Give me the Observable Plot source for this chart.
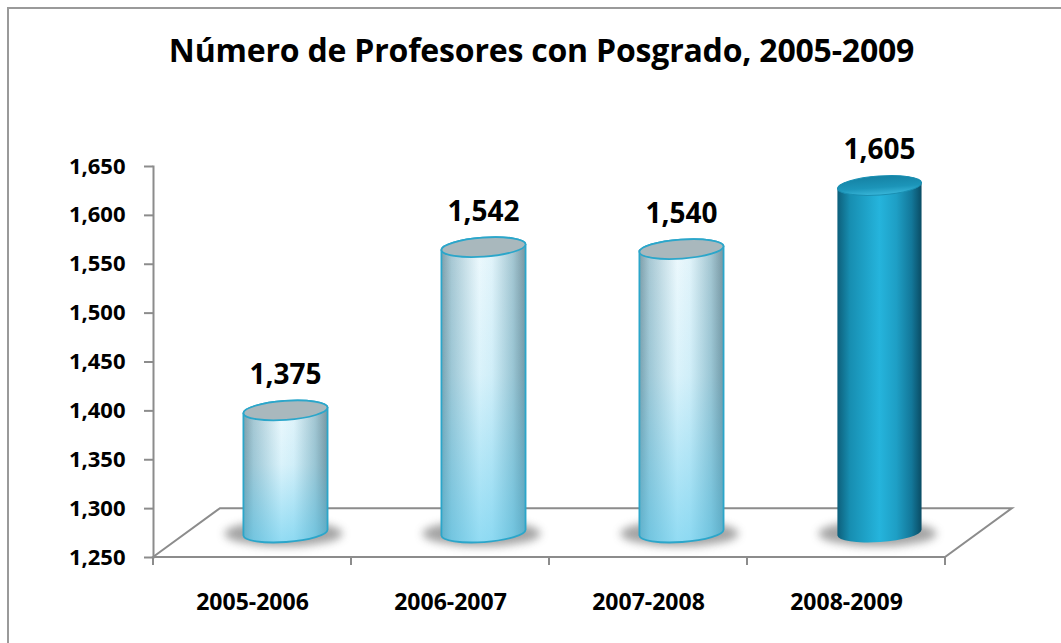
<!DOCTYPE html>
<html>
<head>
<meta charset="utf-8">
<script src="https://cdn.jsdelivr.net/npm/d3@7"></script>
<script src="https://cdn.jsdelivr.net/npm/@observablehq/plot@0.6"></script>
<style>
  html, body { margin: 0; padding: 0; background: #fff; }
  body { width: 1061px; height: 643px; overflow: hidden; position: relative; font-family: "Open Sans", "Liberation Sans", sans-serif; }
  #frame { position: absolute; left: 7px; top: 7px; width: 1100px; height: 700px; border: 2px solid #9a9a9a; box-sizing: border-box; pointer-events: none; }
  #title { height: 100px; line-height: 100px; text-align: center; font-weight: bold; font-size: 32px; color: #000; letter-spacing: -0.2px; padding-left: 22px; box-sizing: border-box; }
  #chart svg { display: block; }
</style>
</head>
<body>
<div id="frame"></div>
<div id="title">Número de Profesores con Posgrado, 2005-2009</div>
<div id="chart"></div>
<script>
// ---- data ----
const periods = ["2005-2006", "2006-2007", "2007-2008", "2008-2009"];
const profesores = [1375, 1542, 1540, 1605];
const yTicks = [1250, 1300, 1350, 1400, 1450, 1500, 1550, 1600, 1650];
const yDomain = [1250, 1650];
const highlighted = ["2008-2009"];

const data = periods.map((p, i) => ({periodo: p, valor: profesores[i]}));

const FONT = '"Open Sans", "Liberation Sans", sans-serif';
const GRID = "#8c8c8c";
const fmt = d3.format(",");

function bandInfo(x) {
  const r = x.range();
  const bw = x.bandwidth ? x.bandwidth() : (r[1] - r[0]) / periods.length;
  return {x0: r[0], x1: r[1], bw};
}

// 3D floor depth derived from the y scale (one step of 50 units)
function depth(y) {
  const dy = y(yDomain[0]) - y(yDomain[0] + 50);
  return {dy, dx: dy * 1.37};
}

// floor (3D base) + category boundary ticks
function floorMark(index, scales) {
  const {x, y} = scales;
  const {x0, x1, bw} = bandInfo(x);
  const {dx, dy} = depth(y);
  const yb = y(yDomain[0]);
  const g = d3.create("svg:g");
  g.append("path")
    .attr("d", `M${x0},${yb} L${x0 + dx},${yb - dy} L${x1 + dx},${yb - dy} L${x1},${yb} Z`)
    .attr("fill", "#fff").attr("stroke", GRID).attr("stroke-width", 2).attr("stroke-linejoin", "miter");
  for (let i = 0; i <= periods.length; i++) {
    const xx = x0 + i * bw;
    g.append("line").attr("x1", xx).attr("x2", xx).attr("y1", yb).attr("y2", yb + 8)
      .attr("stroke", GRID).attr("stroke-width", 2);
  }
  return g.node();
}

// cylinders
function cylinderMark(index, scales) {
  const {x, y} = scales;
  const {bw} = bandInfo(x);
  const {dx, dy} = depth(y);
  const g = d3.create("svg:g");
  const defs = g.append("defs");

  const light = defs.append("linearGradient").attr("id", "gLight").attr("x1", 0).attr("x2", 1).attr("y1", 0).attr("y2", 0);
  [[0, "#7f9ea9"], [0.12, "#a9c8d3"], [0.45, "#eef9fd"], [0.6, "#e3f4fa"], [0.85, "#a5c6d1"], [1, "#7895a0"]]
    .forEach(([o, c]) => light.append("stop").attr("offset", o).attr("stop-color", c));
  const lightV = defs.append("linearGradient").attr("id", "gLightV").attr("x1", 0).attr("x2", 0).attr("y1", 0).attr("y2", 1);
  [[0, "rgba(70,195,235,0)"], [0.45, "rgba(70,195,235,0.12)"], [1, "rgba(70,195,235,0.55)"]]
    .forEach(([o, c]) => lightV.append("stop").attr("offset", o).attr("stop-color", c));
  const dark = defs.append("linearGradient").attr("id", "gDark").attr("x1", 0).attr("x2", 1).attr("y1", 0).attr("y2", 0);
  [[0, "#0d5f7b"], [0.15, "#178eb1"], [0.5, "#25b4dc"], [0.7, "#1e9fc5"], [0.88, "#13789a"], [1, "#0a4c64"]]
    .forEach(([o, c]) => dark.append("stop").attr("offset", o).attr("stop-color", c));
  const darkTop = defs.append("linearGradient").attr("id", "gDarkTop").attr("x1", 0).attr("x2", 0).attr("y1", 0).attr("y2", 1);
  [[0, "#1582a4"], [0.6, "#1c95b9"], [1, "#3ab7da"]]
    .forEach(([o, c]) => darkTop.append("stop").attr("offset", o).attr("stop-color", c));
  const blur = defs.append("filter").attr("id", "shadowBlur").attr("x", "-50%").attr("y", "-100%").attr("width", "200%").attr("height", "300%");
  blur.append("feGaussianBlur").attr("stdDeviation", 4.5);

  const rot = -4;
  const a = rot * Math.PI / 180;
  for (const i of index) {
    const d = data[i];
    const isDark = highlighted.includes(d.periodo);
    const rx = bw * 0.213;
    const ry = rx * 0.225;
    const cx = x(d.periodo) + bw / 2 + dx / 2;
    const yTop = y(d.valor) - dy / 2;
    const yBot = y(yDomain[0]) - dy / 2;
    const ex = rx * Math.cos(a), ey = rx * Math.sin(a);
    const Lt = [cx - ex, yTop - ey], Rt = [cx + ex, yTop + ey];
    const Lb = [cx - ex, yBot - ey], Rb = [cx + ex, yBot + ey];

    // shadow
    g.append("ellipse").attr("cx", cx - 2).attr("cy", yBot + 1).attr("rx", rx * 1.4).attr("ry", ry * 1.35)
      .attr("fill", "#5a5a5a").attr("opacity", 0.55).attr("filter", "url(#shadowBlur)");

    const body = `M${Lt} L${Lb} A${rx},${ry} ${rot} 0 0 ${Rb} L${Rt} A${rx},${ry} ${rot} 0 0 ${Lt} Z`;
    g.append("path").attr("d", body).attr("fill", isDark ? "url(#gDark)" : "url(#gLight)");
    if (!isDark) {
      g.append("path").attr("d", body).attr("fill", "url(#gLightV)")
        .attr("stroke", "#2ba6ca").attr("stroke-width", 1.8);
    }
    g.append("ellipse").attr("cx", cx).attr("cy", yTop).attr("rx", rx).attr("ry", ry)
      .attr("transform", `rotate(${rot},${cx},${yTop})`)
      .attr("fill", isDark ? "url(#gDarkTop)" : "#a9b8bd")
      .attr("stroke", isDark ? "#1a8fb2" : "#2ba6ca").attr("stroke-width", isDark ? 1 : 1.8);
  }
  return g.node();
}

const plot = Plot.plot({
  width: 1061,
  height: 543,
  marginLeft: 153,
  marginRight: 116,
  marginTop: 66,
  marginBottom: 86,
  style: {fontFamily: FONT, fontWeight: "bold", color: "#000", background: "transparent", overflow: "visible"},
  x: {type: "band", domain: periods, padding: 0, axis: null, label: null},
  y: {domain: yDomain, axis: null, label: null},
  marks: [
    floorMark,
    Plot.frame({anchor: "left", stroke: GRID, strokeWidth: 2}),
    Plot.axisY(yTicks, {anchor: "left", label: null, tickFormat: fmt, tickSize: 9, tickPadding: 19, fontSize: 22, stroke: GRID, strokeWidth: 2, fill: "#000"}),
    Plot.axisX(periods, {anchor: "bottom", label: null, tickSize: 0, tickPadding: 36, fontSize: 23, fill: "#000"}),
    Plot.barY(data, {x: "periodo", y1: yDomain[0], y2: "valor", render: cylinderMark}),
    Plot.text(data, {x: "periodo", y: "valor", text: d => fmt(d.valor), dx: 33, dy: -60, fontSize: 28, fontWeight: "bold", fill: "#000"})
  ]
});
document.getElementById("chart").append(plot);
</script>
</body>
</html>
